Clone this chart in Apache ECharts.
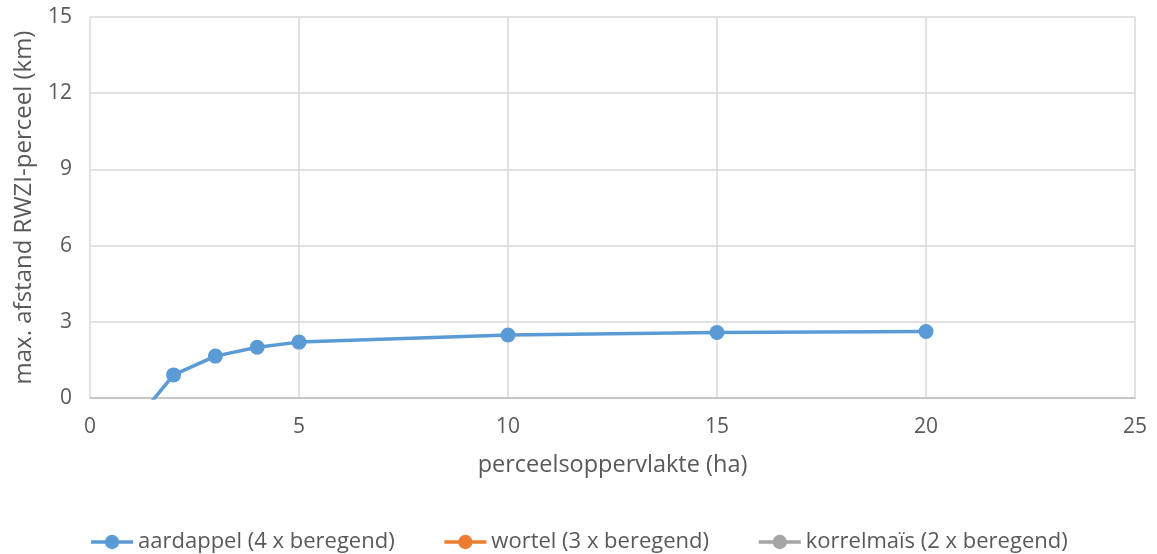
<!DOCTYPE html>
<html>
<head>
<meta charset="utf-8">
<script src="https://cdn.jsdelivr.net/npm/echarts@6/dist/echarts.min.js"></script>
<style>
  html, body { margin: 0; padding: 0; background: #fff; }
  #chart { width: 1157px; height: 554px; }
</style>
</head>
<body>
<div id="chart"></div>
<script>
var seriesNames = ['aardappel (4 x beregend)', 'wortel (3 x beregend)', 'korrelmaïs (2 x beregend)'];
var seriesColors = ['#5B9BD5', '#ED7D31', '#A5A5A5'];

// perceelsoppervlakte (ha) vs max. afstand (km)
var aardappel = [[1, -1.1], [2, 0.91], [3, 1.65], [4, 2.0], [5, 2.2], [10, 2.48], [15, 2.58], [20, 2.62]];
var wortel = [];
var korrelmais = [];

var textColor = '#595959',
  gridColor = '#D9D9D9',
  font = '"Open Sans", sans-serif';

function makeSeries(name, data, color) {
  return {
    name: name,
    type: 'line',
    data: data,
    clip: true,
    symbol: 'circle',
    symbolSize: 15,
    lineStyle: { color: color, width: 3.5 },
    itemStyle: { color: color },
    emphasis: { disabled: true }
  };
}

var myChart = echarts.init(document.getElementById('chart'));
var option = {
  animation: false,
  textStyle: { fontFamily: font },
  grid: { left: 90, right: 22, top: 17, bottom: 156 },
  legend: {
    left: 'center',
    bottom: -4,
    itemGap: 48,
    itemWidth: 42,
    itemHeight: 18,
    lineStyle: { width: 3.5 },
    textStyle: { color: textColor, fontSize: 22, fontFamily: font },
    data: seriesNames
  },
  xAxis: {
    type: 'value',
    min: 0,
    max: 25,
    interval: 5,
    name: 'perceelsoppervlakte (ha)',
    nameLocation: 'middle',
    nameGap: 55,
    nameTextStyle: { color: textColor, fontSize: 23.5, fontFamily: font },
    axisLine: { show: true, lineStyle: { color: '#BFBFBF', width: 1.5 } },
    axisTick: { show: false },
    axisLabel: { color: textColor, fontSize: 21, margin: 19, fontFamily: font },
    splitLine: { show: true, lineStyle: { color: gridColor, width: 1.5 } }
  },
  yAxis: {
    type: 'value',
    min: 0,
    max: 15,
    interval: 3,
    name: 'max. afstand RWZI-perceel (km)',
    nameLocation: 'middle',
    nameGap: 54,
    nameTextStyle: { color: textColor, fontSize: 24, fontFamily: font },
    axisLine: { show: false },
    axisTick: { show: false },
    axisLabel: { color: textColor, fontSize: 21, margin: 18, fontFamily: font },
    splitLine: { show: true, lineStyle: { color: gridColor, width: 1.5 } }
  },
  series: [
    makeSeries(seriesNames[0], aardappel, seriesColors[0]),
    makeSeries(seriesNames[1], wortel, seriesColors[1]),
    makeSeries(seriesNames[2], korrelmais, seriesColors[2])
  ]
};
myChart.setOption(option, true);
</script>
</body>
</html>
